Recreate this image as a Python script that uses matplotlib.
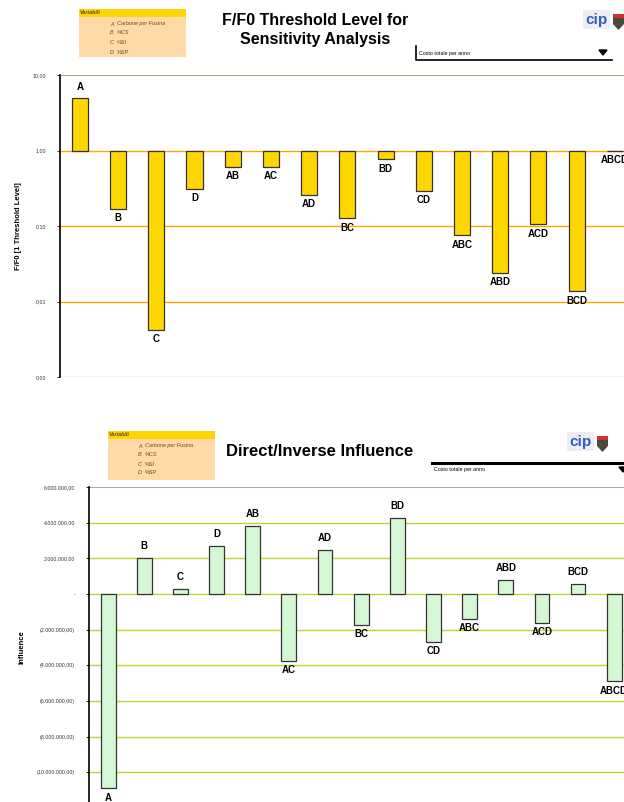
import numpy as np
import matplotlib
matplotlib.use('Agg')
import matplotlib.pyplot as plt
from matplotlib.patches import Rectangle, Polygon
from matplotlib.ticker import FixedLocator, FixedFormatter

plt.rcParams['font.family'] = ['Liberation Sans', 'DejaVu Sans']

# data
combos = ['A', 'B', 'C', 'D', 'AB', 'AC', 'AD', 'BC', 'BD', 'CD',
          'ABC', 'ABD', 'ACD', 'BCD', 'ABCD']
threshold = [5.0, 0.17, 0.0042, 0.31, 0.60, 0.60, 0.26, 0.126, 0.76, 0.29,
             0.075, 0.024, 0.105, 0.0136, 0.975]
influence = [-10.9e6, 2.0e6, 0.28e6, 2.7e6, 3.8e6, -3.75e6, 2.45e6, -1.75e6,
             4.25e6, -2.67e6, -1.38e6, 0.77e6, -1.6e6, 0.58e6, -4.9e6]

log_ticks = [0.001, 0.01, 0.1, 1, 10]
log_labels = ['0,00', '0,01', '0,10', '1,00', '10,00']
inf_ticks = [-10e6, -8e6, -6e6, -4e6, -2e6, 0, 2e6, 4e6, 6e6]
inf_labels = ['(10.000.000,00)', '(8.000.000,00)', '(6.000.000,00)',
              '(4.000.000,00)', '(2.000.000,00)', '-', '2.000.000,00',
              '4.000.000,00', '6.000.000,00']
legend_items = [('A', 'Carbone per Fusina'), ('B', '%CS'), ('C', '%SI'), ('D', '%SP')]

W, H = 624, 802
fig = plt.figure(figsize=(W / 100, H / 100), dpi=100)


def px_axes(x0, y0, x1, y1):
    # pixel box (top-left origin) -> figure axes
    return fig.add_axes([x0 / W, 1 - y1 / H, (x1 - x0) / W, (y1 - y0) / H])


x = np.arange(len(combos))

# ---- top chart: F/F0 threshold level (log scale)
ax1 = px_axes(60, 75, 650, 377)
ax1.set_yscale('log')
ax1.set_ylim(0.001, 10)
ax1.set_xlim(-0.52, 14.92)
ax1.bar(x, np.array(threshold) - 1, bottom=1, width=0.42, color='#FFD700',
        edgecolor='#333333', linewidth=0.9, zorder=3)
for i, v in enumerate(threshold):
    if v >= 1:
        ax1.annotate(combos[i], (i, v), xytext=(0, 4), textcoords='offset points',
                     ha='center', va='bottom', fontsize=7, fontweight='bold')
    else:
        ax1.annotate(combos[i], (i, v), xytext=(0, -3), textcoords='offset points',
                     ha='center', va='top', fontsize=7, fontweight='bold')
ax1.yaxis.set_major_locator(FixedLocator(log_ticks))
ax1.yaxis.set_major_formatter(FixedFormatter(log_labels))
ax1.yaxis.set_minor_locator(FixedLocator([]))
ax1.tick_params(axis='y', labelsize=3.8, length=2, width=0.6, pad=8, labelcolor='#333333')
ax1.tick_params(axis='x', bottom=False, labelbottom=False)
for t in [0.01, 0.1, 1]:
    ax1.axhline(t, color='#FFA500', linewidth=1, zorder=1)
ax1.axhline(10, color='#B0A080', linewidth=1.5, zorder=1)
ax1.axhline(0.001, color='#C8B898', linewidth=1, zorder=1)
for s in ['top', 'right', 'bottom']:
    ax1.spines[s].set_visible(False)
ax1.spines['left'].set_linewidth(1.2)
ax1.set_ylabel('F/F0 [1 Threshold Level]', fontsize=5.5, fontweight='bold')
ax1.yaxis.set_label_coords((22 - 60) / 590, 0.5)

# ---- bottom chart: direct/inverse influence
ax2 = px_axes(89, 487, 650, 808)
ax2.set_ylim(-12e6, 6e6)
ax2.set_xlim(-0.53, 14.99)
ax2.bar(x, influence, width=0.41, color='#D4F8D4', edgecolor='#333333',
        linewidth=0.9, zorder=3)
for i, v in enumerate(influence):
    if v >= 0:
        ax2.annotate(combos[i], (i, v), xytext=(0, 5), textcoords='offset points',
                     ha='center', va='bottom', fontsize=7, fontweight='bold')
    else:
        ax2.annotate(combos[i], (i, v), xytext=(0, -3), textcoords='offset points',
                     ha='center', va='top', fontsize=7, fontweight='bold')
ax2.yaxis.set_major_locator(FixedLocator(inf_ticks))
ax2.yaxis.set_major_formatter(FixedFormatter(inf_labels))
ax2.tick_params(axis='y', labelsize=3.8, length=2, width=0.6, pad=8, labelcolor='#333333')
ax2.tick_params(axis='x', bottom=False, labelbottom=False)
for t in inf_ticks[:-1]:
    ax2.axhline(t, color='#B8D830', linewidth=1, zorder=1)
ax2.axhline(6e6, color='#A8B090', linewidth=1.5, zorder=1)
for s in ['top', 'right', 'bottom']:
    ax2.spines[s].set_visible(False)
ax2.spines['left'].set_linewidth(1.2)
ax2.set_ylabel('Influence', fontsize=5.5, fontweight='bold')
ax2.yaxis.set_label_coords((25 - 89) / 561, 0.5)

# ---- overlay for the sheet decorations (pixel coordinates)
ov = fig.add_axes([0, 0, 1, 1], zorder=10)
ov.set_xlim(0, W)
ov.set_ylim(H, 0)
ov.axis('off')
ov.patch.set_alpha(0)


def legend_box(x0, y0, x1, y1, lx, rows):
    ov.add_patch(Rectangle((x0, y0), x1 - x0, y1 - y0, color='#FFD9A8', lw=0))
    ov.add_patch(Rectangle((x0, y0), x1 - x0, 8, color='#FFD700', lw=0))
    ov.text(x0 + 1, y0 + 4, 'Variabili', fontsize=4, color='#6B4A1A',
            fontstyle='italic', fontweight='bold', va='center')
    for (letter, name), ry in zip(legend_items, rows):
        ov.text(lx, ry, letter, fontsize=4, color='#6B4A1A', fontstyle='italic', va='center')
        ov.text(lx + 7, ry, name, fontsize=4, color='#6B4A1A', fontstyle='italic', va='center')


def logo(x0, y0):
    ov.add_patch(Rectangle((x0, y0), 27, 19, color='#EEEEF2', lw=0))
    ov.text(x0 + 13, y0 + 10, 'cip', fontsize=11, color='#2D5FC8',
            fontweight='bold', ha='center', va='center')
    ov.add_patch(Polygon([(x0 + 30, y0 + 4), (x0 + 41, y0 + 4), (x0 + 41, y0 + 14),
                          (x0 + 35.5, y0 + 20), (x0 + 30, y0 + 14)],
                         closed=True, color='#4A4A40', lw=0))
    ov.add_patch(Rectangle((x0 + 30, y0 + 4), 11, 4, color='#D03030', lw=0))


# top header
legend_box(79, 9, 186, 57, 110, [24, 33, 43, 52])
ov.text(315, 30, 'F/F0 Threshold Level for\nSensitivity Analysis', fontsize=11.5,
        fontweight='bold', ha='center', va='center', linespacing=1.3)
ov.plot([416, 416, 612], [46, 60, 60], color='black', lw=1.2)
ov.text(419, 53, 'Costo totale per anno', fontsize=3.8, va='center')
ov.add_patch(Polygon([(599, 50), (607, 50), (603, 55)], closed=True, color='black'))
logo(583, 10)

# bottom header
legend_box(108, 431, 215, 480, 138, [446, 455, 464, 473])
ov.text(320, 452, 'Direct/Inverse Influence', fontsize=12, fontweight='bold',
        ha='center', va='center')
ov.plot([432, 624], [463, 463], color='black', lw=2.2)
ov.text(434, 470, 'Costo totale per anno', fontsize=3.8, va='center')
ov.add_patch(Polygon([(619, 467), (627, 467), (623, 472)], closed=True, color='black'))
logo(567, 432)

fig.savefig('out.png', dpi=100)
